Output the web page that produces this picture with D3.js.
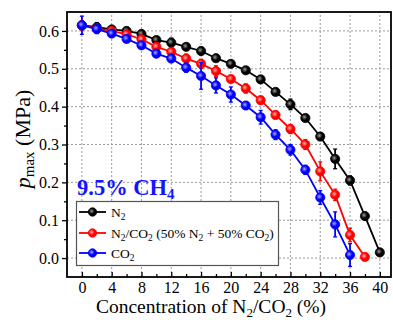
<!DOCTYPE html>
<html>
<head>
<meta charset="utf-8">
<script src="https://cdn.jsdelivr.net/npm/d3@7"></script>
<style>
  body { margin: 0; background: #fff; }
  svg { display: block; font-family: "Liberation Serif", "Times New Roman", serif; }
</style>
</head>
<body>
<svg id="chart" width="393" height="325"></svg>
<script>
// Data (MPa)
const n2X = [0, 2, 4, 6, 8, 10, 12, 14, 16, 18, 20, 22, 24, 26, 28, 30, 32, 34, 36, 38, 40];
const n2Y = [0.615, 0.61, 0.604, 0.6, 0.592, 0.576, 0.569, 0.558, 0.547, 0.528, 0.513, 0.496, 0.472, 0.439, 0.406, 0.37, 0.321, 0.262, 0.205, 0.111, 0.015];
const n2Err = [0.012, 0.012, 0.006, 0.006, 0.006, 0.008, 0.012, 0.008, 0.01, 0.008, 0.006, 0.006, 0.006, 0.008, 0.014, 0.008, 0.01, 0.026, 0.012, 0.01, 0.006];

const mixX = [0, 2, 4, 6, 8, 10, 12, 14, 16, 18, 20, 22, 24, 26, 28, 30, 32, 34, 36, 38];
const mixY = [0.615, 0.606, 0.6, 0.591, 0.578, 0.558, 0.545, 0.527, 0.513, 0.494, 0.473, 0.448, 0.417, 0.378, 0.341, 0.3, 0.229, 0.167, 0.061, 0.003];
const mixErr = [0.012, 0.012, 0.008, 0.008, 0.008, 0.01, 0.008, 0.012, 0.012, 0.014, 0.008, 0.012, 0.01, 0.01, 0.012, 0.013, 0.025, 0.015, 0.018, 0.006];

const co2X = [0, 2, 4, 6, 8, 10, 12, 14, 16, 18, 20, 22, 24, 26, 28, 30, 32, 34, 36];
const co2Y = [0.615, 0.605, 0.593, 0.579, 0.562, 0.54, 0.527, 0.503, 0.481, 0.456, 0.432, 0.403, 0.372, 0.326, 0.286, 0.233, 0.16, 0.089, 0.008];
const co2Err = [0.024, 0.012, 0.008, 0.008, 0.008, 0.01, 0.008, 0.012, 0.035, 0.02, 0.02, 0.01, 0.018, 0.013, 0.014, 0.012, 0.018, 0.033, 0.03];

const xTicks = [0, 4, 8, 12, 16, 20, 24, 28, 32, 36, 40];
const xMinor = [2, 6, 10, 14, 18, 22, 26, 30, 34, 38];
const yTicks = [0.0, 0.1, 0.2, 0.3, 0.4, 0.5, 0.6];
const yMinor = [0.05, 0.15, 0.25, 0.35, 0.45, 0.55];

const series = [
  { name: "N2", xs: n2X, ys: n2Y, err: n2Err, color: "#000000", light: "#9a9a9a" },
  { name: "mix", xs: mixX, ys: mixY, err: mixErr, color: "#ff0000", light: "#ffb0b0" },
  { name: "CO2", xs: co2X, ys: co2Y, err: co2Err, color: "#0000ff", light: "#a8a8ff" }
];

const svg = d3.select("#chart");
const margin = { top: 12, right: 2, bottom: 48, left: 67 };
const width = 393, height = 325;

const x = d3.scaleLinear().domain([-2, 41.5]).range([margin.left, width - margin.right]);
const y = d3.scaleLinear().domain([-0.05, 0.65]).range([height - margin.bottom, margin.top]);

// gradients for glossy markers
const defs = svg.append("defs");
series.forEach((s, i) => {
  const g = defs.append("radialGradient").attr("id", "grad" + i)
    .attr("cx", "40%").attr("cy", "40%").attr("r", "60%");
  g.append("stop").attr("offset", "0%").attr("stop-color", s.light);
  g.append("stop").attr("offset", "55%").attr("stop-color", s.color);
  g.append("stop").attr("offset", "100%").attr("stop-color", s.color);
});

// grid
svg.append("g").selectAll("line").data(xTicks).join("line")
  .attr("x1", d => x(d)).attr("x2", d => x(d))
  .attr("y1", y.range()[0]).attr("y2", y.range()[1])
  .attr("stroke", "#9a9a9a").attr("stroke-width", 1).attr("stroke-dasharray", "2,2");
svg.append("g").selectAll("line").data(yTicks).join("line")
  .attr("x1", x.range()[0]).attr("x2", x.range()[1])
  .attr("y1", d => y(d)).attr("y2", d => y(d))
  .attr("stroke", "#9a9a9a").attr("stroke-width", 1).attr("stroke-dasharray", "2,2");

// axes
const xAxis = svg.append("g")
  .attr("transform", `translate(0,${height - margin.bottom})`)
  .call(d3.axisBottom(x).tickValues(xTicks).tickSize(-5).tickPadding(5).tickFormat(d3.format("d")));
const xAxisMinor = svg.append("g")
  .attr("transform", `translate(0,${height - margin.bottom})`)
  .call(d3.axisBottom(x).tickValues(xMinor).tickSize(-3).tickFormat(""));
const yAxis = svg.append("g")
  .attr("transform", `translate(${margin.left},0)`)
  .call(d3.axisLeft(y).tickValues(yTicks).tickSize(5).tickPadding(3).tickFormat(d3.format(".1f")));
const yAxisMinor = svg.append("g")
  .attr("transform", `translate(${margin.left},0)`)
  .call(d3.axisLeft(y).tickValues(yMinor).tickSize(3).tickFormat(""));

[xAxis, xAxisMinor, yAxis, yAxisMinor].forEach(a => {
  a.select(".domain").remove();
  a.selectAll(".tick line").attr("stroke", "#000").attr("stroke-width", 1.3);
  a.selectAll("text").attr("font-family", "Liberation Serif").attr("font-size", 16).attr("fill", "#000");
});

// frame
svg.append("rect")
  .attr("x", margin.left).attr("y", margin.top)
  .attr("width", width - margin.right - margin.left)
  .attr("height", height - margin.bottom - margin.top)
  .attr("fill", "none").attr("stroke", "#000").attr("stroke-width", 1.8);

// series
const line = d3.line().x(d => x(d[0])).y(d => y(d[1]));
series.forEach((s, i) => {
  const pts = s.xs.map((v, j) => [v, s.ys[j], s.err[j]]);
  const g = svg.append("g");
  g.append("path").datum(pts).attr("d", line)
    .attr("fill", "none").attr("stroke", s.color).attr("stroke-width", 1.8);
  g.selectAll("line.err").data(pts).join("line").attr("class", "err")
    .attr("x1", d => x(d[0])).attr("x2", d => x(d[0]))
    .attr("y1", d => y(d[1] - d[2])).attr("y2", d => y(d[1] + d[2]))
    .attr("stroke", s.color).attr("stroke-width", 1.8);
  g.selectAll("line.cap1").data(pts).join("line").attr("class", "cap1")
    .attr("x1", d => x(d[0]) - 2).attr("x2", d => x(d[0]) + 2)
    .attr("y1", d => y(d[1] - d[2])).attr("y2", d => y(d[1] - d[2]))
    .attr("stroke", s.color).attr("stroke-width", 1.3);
  g.selectAll("line.cap2").data(pts).join("line").attr("class", "cap2")
    .attr("x1", d => x(d[0]) - 2).attr("x2", d => x(d[0]) + 2)
    .attr("y1", d => y(d[1] + d[2])).attr("y2", d => y(d[1] + d[2]))
    .attr("stroke", s.color).attr("stroke-width", 1.3);
  g.selectAll("circle").data(pts).join("circle")
    .attr("cx", d => x(d[0])).attr("cy", d => y(d[1]))
    .attr("r", 4.6).attr("fill", `url(#grad${i})`)
    .attr("stroke", s.color).attr("stroke-width", 0.8);
});

// annotation
const ann = svg.append("text").attr("x", 77).attr("y", 195)
  .attr("font-size", 22.5).attr("font-weight", "bold").attr("fill", "#1414ff");
ann.append("tspan").text("9.5% CH");
ann.append("tspan").attr("font-size", 15).attr("dy", 4).text("4");

// legend
const lg = svg.append("g");
lg.append("rect").attr("x", 76.5).attr("y", 201.5).attr("width", 202).attr("height", 64)
  .attr("fill", "#fff").attr("stroke", "#555").attr("stroke-width", 1.2);
const legendRows = [
  { i: 0, y: 212, parts: [["N", 0], ["2", 1]] },
  { i: 1, y: 233, parts: [["N", 0], ["2", 1], ["/CO", 0], ["2", 1], [" (50% N", 0], ["2", 1], [" + 50% CO", 0], ["2", 1], [")", 0]] },
  { i: 2, y: 253, parts: [["CO", 0], ["2", 1]] }
];
legendRows.forEach(r => {
  const s = series[r.i];
  lg.append("line").attr("x1", 79).attr("x2", 106).attr("y1", r.y).attr("y2", r.y)
    .attr("stroke", s.color).attr("stroke-width", 1.8);
  lg.append("circle").attr("cx", 92.5).attr("cy", r.y).attr("r", 4.2)
    .attr("fill", `url(#grad${r.i})`).attr("stroke", s.color).attr("stroke-width", 0.8);
  const t = lg.append("text").attr("x", 111).attr("y", r.y + 4.5).attr("font-size", 13.5);
  let sub = false;
  r.parts.forEach(([txt, isSub]) => {
    const ts = t.append("tspan").text(txt);
    if (isSub && !sub) { ts.attr("dy", 3).attr("font-size", 9.5); sub = true; }
    else if (!isSub && sub) { ts.attr("dy", -3); sub = false; }
    else if (isSub) ts.attr("font-size", 9.5);
  });
});

// axis titles
const xt = svg.append("text").attr("x", 211).attr("y", 312.5)
  .attr("text-anchor", "middle").attr("font-size", 19.5);
xt.append("tspan").text("Concentration of N");
xt.append("tspan").attr("font-size", 13).attr("dy", 4).text("2");
xt.append("tspan").attr("dy", -4).text("/CO");
xt.append("tspan").attr("font-size", 13).attr("dy", 4).text("2");
xt.append("tspan").attr("dy", -4).text(" (%)");

const yt = svg.append("text").attr("transform", "translate(30,139) rotate(-90)")
  .attr("text-anchor", "middle").attr("font-size", 22);
yt.append("tspan").attr("font-style", "italic").text("p");
yt.append("tspan").attr("font-size", 15).attr("dy", 4).text("max");
yt.append("tspan").attr("dy", -4).text(" (MPa)");
</script>
</body>
</html>
